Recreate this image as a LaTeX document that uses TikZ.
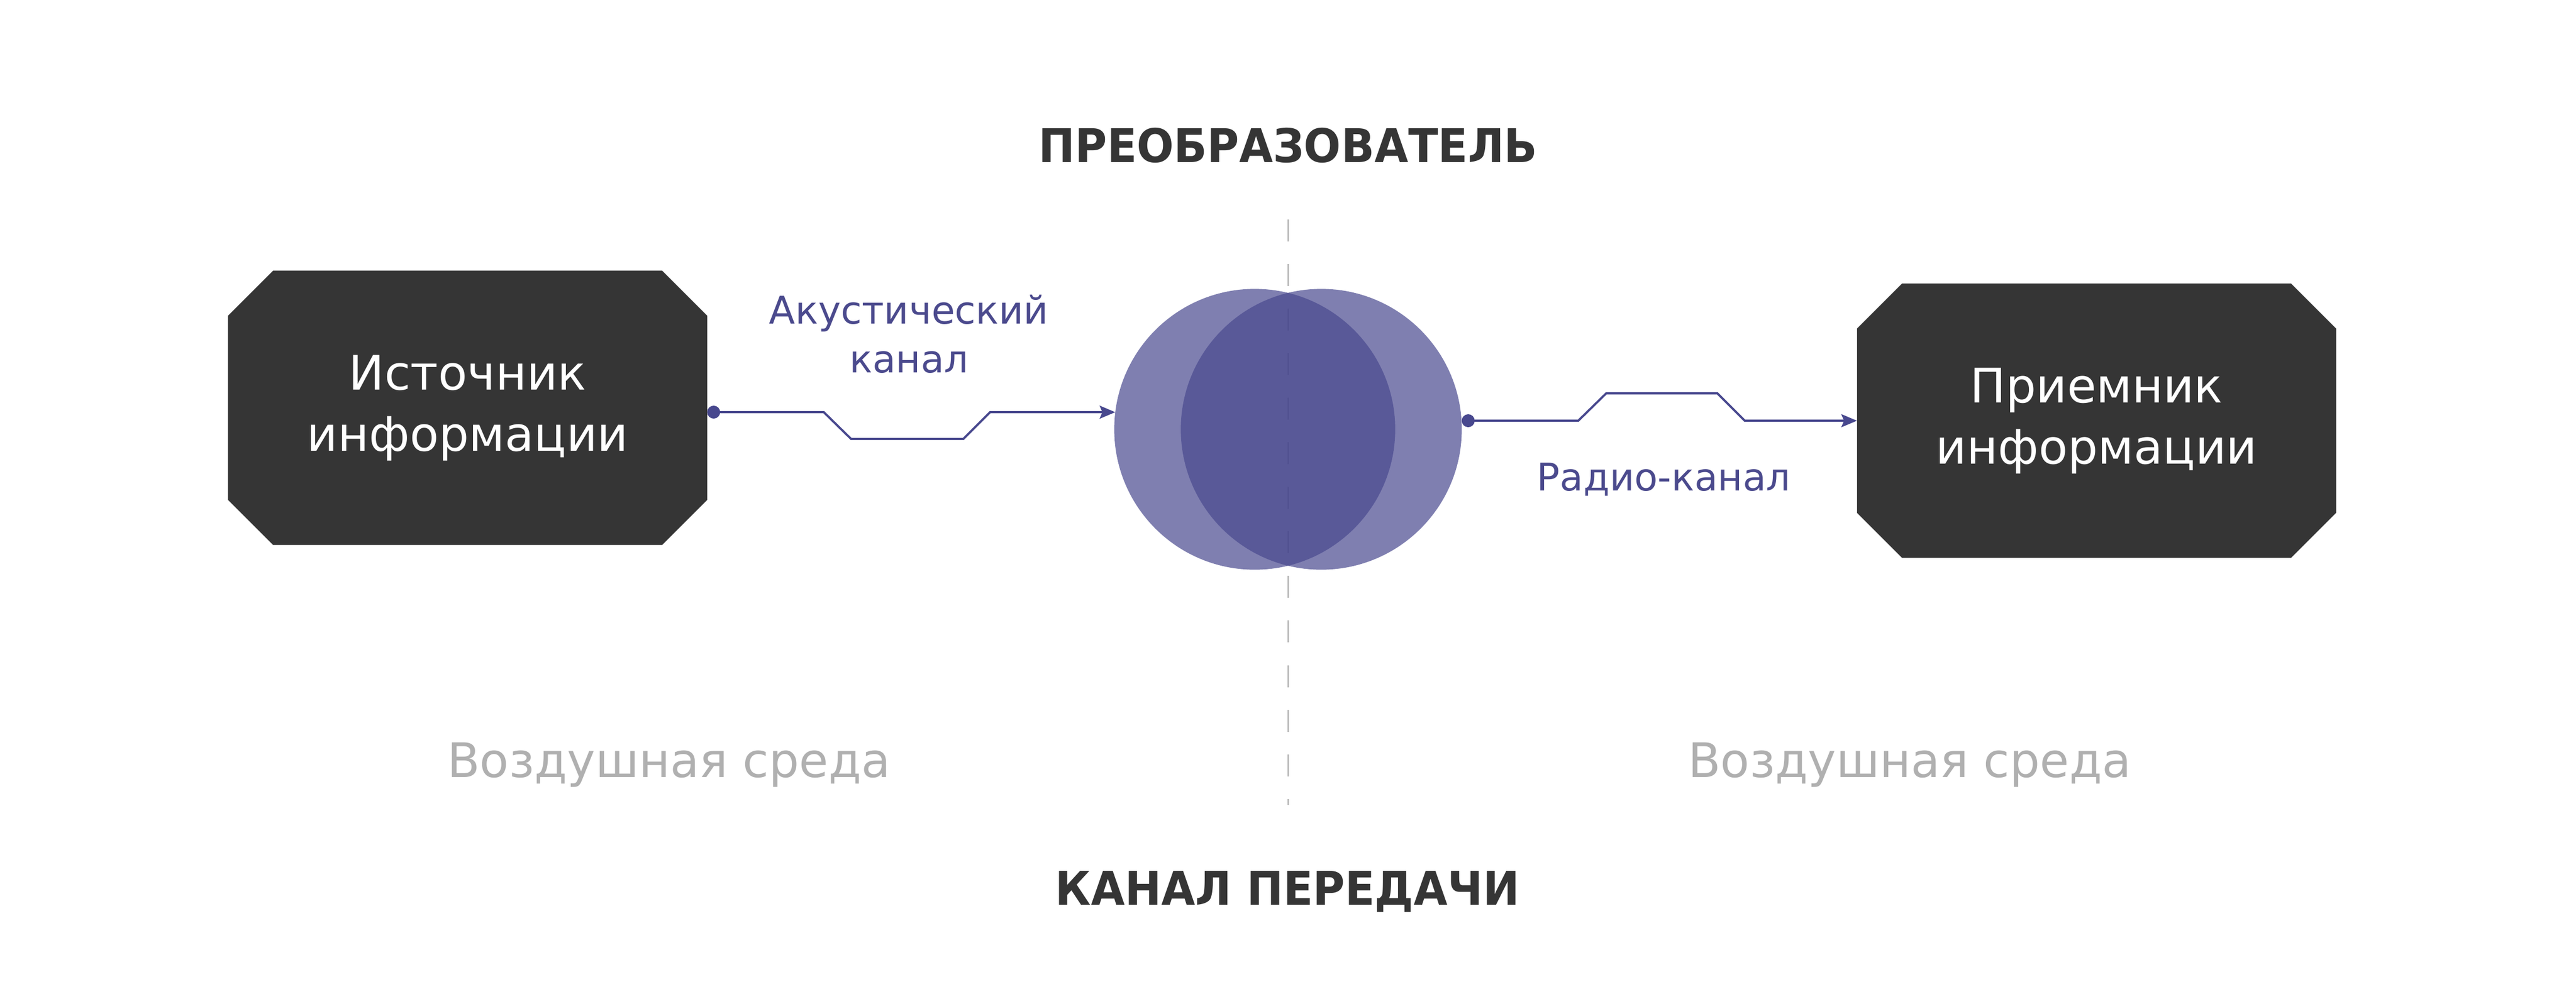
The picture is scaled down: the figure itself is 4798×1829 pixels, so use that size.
\documentclass[tikz,border=0pt]{standalone}
\usepackage{fontspec}
\setmainfont{DejaVu Sans}
\newfontfamily\titlefont[FakeStretch=0.94]{DejaVu Sans}
\usepackage{tikz}
\usetikzlibrary{shapes.misc,arrows.meta,positioning}

\definecolor{boxgray}{HTML}{353535}
\definecolor{accent}{HTML}{48488E}
\definecolor{labelviolet}{HTML}{4B4A8D}
\definecolor{airgray}{HTML}{B0B0B0}
\definecolor{dashgray}{HTML}{BBBBBB}

\begin{document}
\begin{tikzpicture}[
    x=0.01cm, y=-0.01cm,
    device/.style={chamfered rectangle, chamfered rectangle xsep=0.42cm, chamfered rectangle ysep=0.42cm, minimum width=8.92cm, minimum height=5.11cm, inner sep=0, outer sep=0, fill=boxgray, text=white, align=center, font=\fontsize{25.2}{32.4}\selectfont},
    converter/.style={circle, minimum size=5.23cm, inner sep=0, outer sep=0, fill=accent, fill opacity=0.7},
    title_label/.style={anchor=base, text=boxgray, font=\titlefont\bfseries\fontsize{24.6}{30}\selectfont},
    air_label/.style={anchor=base, text=airgray, font=\fontsize{25.2}{30}\selectfont},
    channel_label/.style={text=labelviolet, align=center, font=\fontsize{20.2}{25.6}\selectfont},
    wire/.style={draw=accent, line width=1.15pt, {Circle[length=0.24cm]}-{Stealth[length=0.29cm,width=0.24cm,inset=0.05cm]}},
    divider/.style={draw=dashgray, line width=0.85pt, dash pattern=on 0.41cm off 0.42cm}
]
\useasboundingbox (0,0) rectangle (4798,1829);
% Titles
\node[title_label] (conv_title) at (2399,302) {ПРЕОБРАЗОВАТЕЛЬ};
\node[title_label] (chan_title) at (2398,1686) {КАНАЛ ПЕРЕДАЧИ};
% Medium labels
\node[air_label] (air_left) at (1246,1448) {Воздушная среда};
\node[air_label] (air_right) at (3557,1448) {Воздушная среда};
% Divider
\draw[divider] (2399,409) -- (2399,1500);
% Source and receiver
\node[device] (source) at (871,760) {Источник\\информации};
\node[device] (receiver) at (3905,784) {Приемник\\информации};
% Converter (two overlapping circles)
\node[converter] (conv_left) at (2337,800) {};
\node[converter] (conv_right) at (2461,800) {};
% Channel labels (base = last line)
\node[channel_label, anchor=base] (acoustic) at (1693,694) {Акустический\\канал};
\node[channel_label, anchor=base] (radio) at (3099,914) {Радио-канал};
% Arrows
\draw[wire] ([yshift=-0.08cm]source.east) -- ++(217,0) -- ++(51,50) -- ++(209,0) -- ++(50,-50) -- (conv_left.173);
\draw[wire] (conv_right.east |- receiver.west) -- ++(217,0) -- ++(52,-51) -- ++(207,0) -- ++(51,51) -- (receiver.west);
\end{tikzpicture}
\end{document}
